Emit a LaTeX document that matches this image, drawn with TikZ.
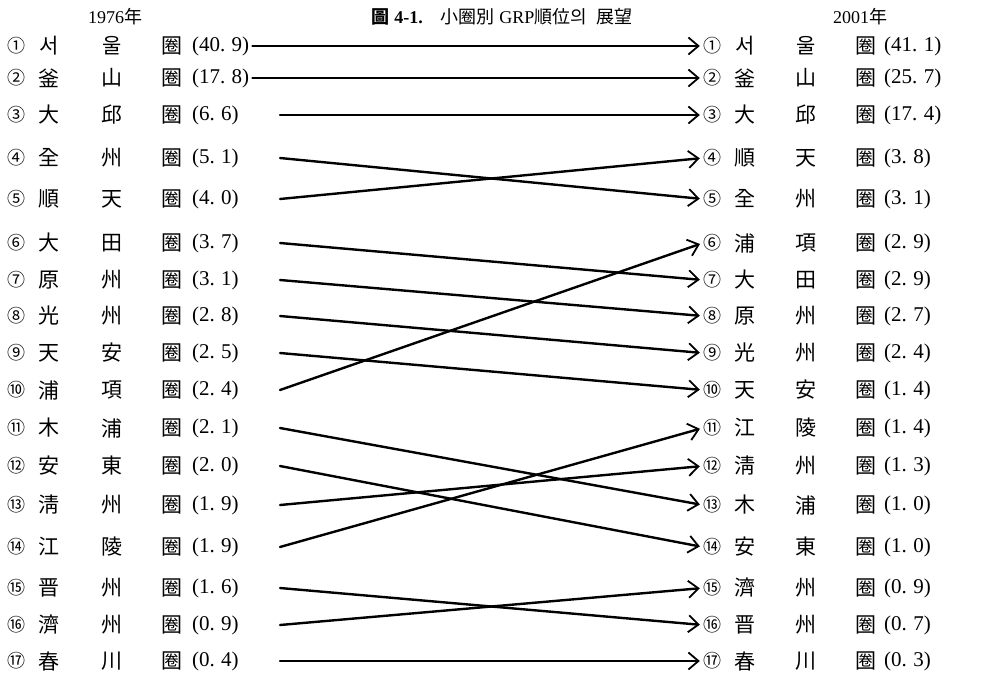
\documentclass[tikz,border=0pt]{standalone}
\usepackage{fontspec}
\setmainfont{Liberation Serif}
\newfontfamily\kr{Noto Sans CJK KR}
\usetikzlibrary{arrows.meta,calc}
\begin{document}
\begin{tikzpicture}[x=1pt,y=-1pt,
  hz/.style={inner sep=0pt, font=\fontsize{21}{21}\selectfont\kr},
  cn/.style={inner sep=0pt, font=\fontsize{18}{18}\selectfont\kr},
  val/.style={inner sep=0pt, anchor=west, font=\fontsize{21}{21}\selectfont},
  arr/.style={line width=2.4pt, line cap=round, shorten >=3pt,
    -{Straight Barb[length=10pt,width=17pt,line width=1.8pt]}},
  ttl/.style={inner sep=0pt, font=\fontsize{18}{18}\selectfont}]
\useasboundingbox (0,0) rectangle (990,680);

\node[ttl] (title) at (502,17) {{\kr\bfseries 圖} \textbf{4-1.}\quad{\kr 小圈別} GRP{\kr 順位의}\ \ {\kr 展望}};
\node[ttl] (y1976) at (115,17) {1976{\kr 年}};
\node[ttl] (y2001) at (860,17) {2001{\kr 年}};

% left column
\foreach \i/\c/\a/\b/\p/\q/\y in {
 1/①/서/울/40/9/46, 2/②/釜/山/17/8/78, 3/③/大/邱/6/6/115,
 4/④/全/州/5/1/158, 5/⑤/順/天/4/0/199, 6/⑥/大/田/3/7/243,
 7/⑦/原/州/3/1/280, 8/⑧/光/州/2/8/316, 9/⑨/天/安/2/5/353,
 10/⑩/浦/項/2/4/390, 11/⑪/木/浦/2/1/428, 12/⑫/安/東/2/0/466,
 13/⑬/淸/州/1/9/505, 14/⑭/江/陵/1/9/547, 15/⑮/晋/州/1/6/588,
 16/⑯/濟/州/0/9/625, 17/⑰/春/川/0/4/661}{
  \node[cn] (ln\i) at (16,\y) {\c};
  \node[hz] (la\i) at (49,\y) {\a};
  \node[hz] (lb\i) at (112,\y) {\b};
  \node[hz] (lc\i) at (172,\y) {圈};
  \node[val] (lv\i) at (192,\y) {(\p.\hspace{0.3em}\q)};
}
% right column
\foreach \i/\c/\a/\b/\p/\q/\y in {
 1/①/서/울/41/1/46, 2/②/釜/山/25/7/78, 3/③/大/邱/17/4/115,
 4/④/順/天/3/8/158, 5/⑤/全/州/3/1/199, 6/⑥/浦/項/2/9/243,
 7/⑦/大/田/2/9/280, 8/⑧/原/州/2/7/316, 9/⑨/光/州/2/4/353,
 10/⑩/天/安/1/4/390, 11/⑪/江/陵/1/4/428, 12/⑫/淸/州/1/3/466,
 13/⑬/木/浦/1/0/505, 14/⑭/安/東/1/0/547, 15/⑮/濟/州/0/9/588,
 16/⑯/晋/州/0/7/625, 17/⑰/春/川/0/3/661}{
  \node[cn] (rn\i) at (712,\y) {\c};
  \node[hz] (ra\i) at (745,\y) {\a};
  \node[hz] (rb\i) at (806,\y) {\b};
  \node[hz] (rc\i) at (866,\y) {圈};
  \node[val] (rv\i) at (884,\y) {(\p.\hspace{0.3em}\q)};
}
% start points of connectors
\coordinate (s1) at ($(lv1.east)+(3,0)$);
\coordinate (s2) at ($(lv2.east)+(3,0)$);
\foreach \i in {3,...,17}{\coordinate (s\i) at (lv\i.east -| 280,0);}
% connectors
\foreach \s/\t in {1/1,2/2,3/3,4/5,5/4,6/7,7/8,8/9,9/10,10/6,
  11/13,12/14,13/12,14/11,15/16,16/15,17/17}{
  \draw[arr] (s\s) -- (rn\t.west);
}
\end{tikzpicture}
\end{document}
